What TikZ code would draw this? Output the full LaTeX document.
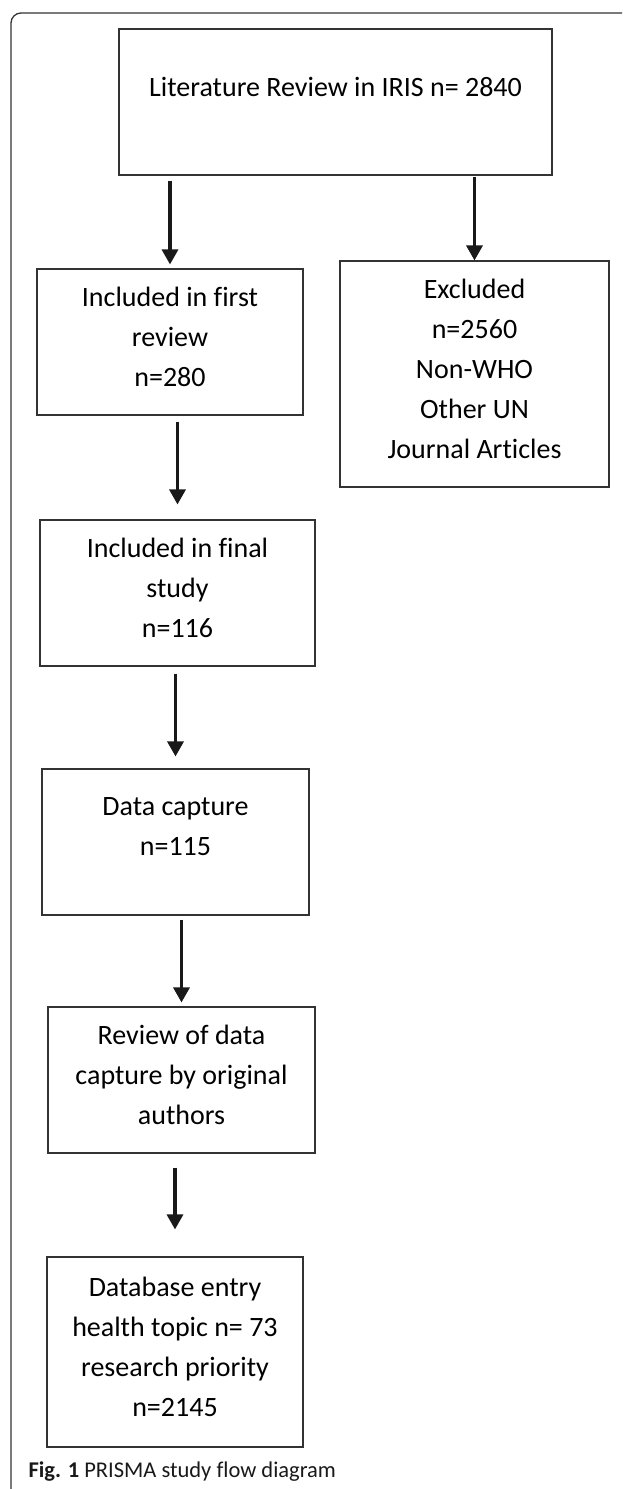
\documentclass[tikz,border=0pt]{standalone}
\usepackage{fontspec}
\setmainfont{Carlito}[Ligatures=NoCommon]
\usetikzlibrary{arrows.meta}

\begin{document}
\begin{tikzpicture}[x=1pt,y=-1pt,
	box/.style={draw=black!80,line width=1.1pt,align=center,inner sep=0pt,text=black,text depth=10pt,font=\fontsize{28}{40}\selectfont},
	arr/.style={-{Triangle[width=16pt,length=15pt]},line width=3.2pt,draw=black!90}]
			\useasboundingbox (0,0) rectangle (622,1489);
			\draw[black!80,line width=1.3pt,rounded corners=10pt] (11,1489) -- (11,13) -- (622,13);
			
			\node[box,minimum width=433pt,minimum height=146pt,text depth=30pt] (lit) at (335.5,102) {Literature Review in IRIS n= 2840};
			\node[box,minimum width=266pt,minimum height=146pt] (first) at (170,342) {Included in first\\review\\n=280};
			\node[box,minimum width=269pt,minimum height=226pt] (excl) at (474.5,374) {Excluded\\n=2560\\Non-WHO\\Other UN\\Journal Articles};
			\node[box,minimum width=275pt,minimum height=146pt] (final) at (177.5,593) {Included in final\\study\\n=116};
			\node[box,minimum width=267pt,minimum height=146pt,text depth=30pt] (capture) at (175.5,842) {Data capture\\n=115};
			\node[box,minimum width=267pt,minimum height=146pt] (check) at (181.5,1080) {Review of data\\capture by original\\authors};
			\node[box,minimum width=256pt,minimum height=190pt] (entry) at (175,1352) {Database entry\\health topic n= 73\\research priority\\n=2145};
			
			\draw[arr,shorten <=5pt,shorten >=4pt] (lit.south -| first.north) -- (first.north);
			\draw[arr,shorten <=1pt] (lit.south -| excl.north) -- (excl.north);
			\draw[arr,shorten <=6pt,shorten >=15pt] (first.south -| final.north) -- (final.north);
			\draw[arr,shorten <=7pt,shorten >=12pt] (final.south -| capture.north) -- (capture.north);
			\draw[arr,shorten <=4pt,shorten >=4pt] (capture.south -| check.north) -- (check.north);
			\draw[arr,shorten <=14pt,shorten >=27pt] (check.south -| entry.north) -- (entry.north);
			
			\node[anchor=base west,font=\fontsize{22.5}{27}\selectfont,text=black!90] (caption) at (25,1477) {\textbf{Fig. 1} PRISMA study flow diagram};
\end{tikzpicture}
\end{document}
